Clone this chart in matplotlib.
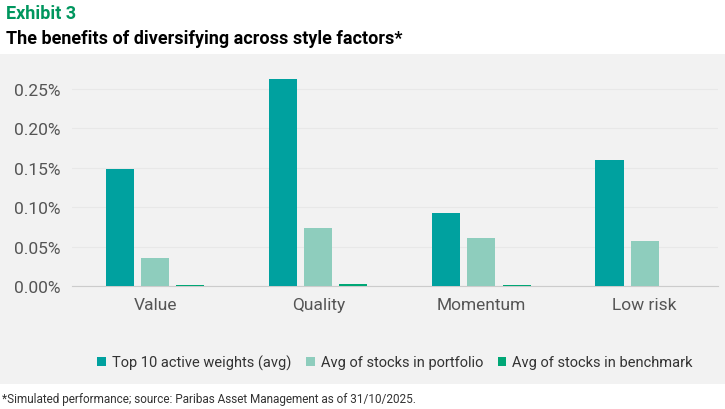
import matplotlib.pyplot as plt
import numpy as np

factors = ["Value", "Quality", "Momentum", "Low risk"]
top10 = [0.148, 0.263, 0.093, 0.160]
portfolio = [0.035, 0.073, 0.061, 0.057]
benchmark = [0.001, 0.002, 0.001, 0.0]
series = ["Top 10 active weights (avg)", "Avg of stocks in portfolio", "Avg of stocks in benchmark"]
colors = ["#00a19f", "#8ecdbd", "#00a776"]

plt.rcParams['font.family'] = ['Roboto', 'DejaVu Sans']
fig = plt.figure(figsize=(7.25, 4.1), dpi=100)

# grey panel behind the chart
bg = fig.add_axes([0, 25/410, 1, 330/410], zorder=-1)
bg.set_facecolor("#f2f2f2")
bg.set_xticks([])
bg.set_yticks([])
for s in bg.spines.values():
    s.set_visible(False)

fig.text(0.008, 0.965, "Exhibit 3", color="#00965e", fontsize=13, fontweight="bold", va="center")
fig.text(0.008, 0.905, "The benefits of diversifying across style factors*", color="black",
         fontsize=13, fontweight="bold", va="center")
fig.text(0.003, 0.025, "*Simulated performance; source: Paribas Asset Management as of 31/10/2025.",
         fontsize=8.5, color="#333333", va="center")

ax = fig.add_axes([72/725, 0.3, (718-72)/725, 213/410])
ax.set_facecolor("none")
x = np.arange(len(factors))
w = 0.172
off = 0.215
for i, vals in enumerate([top10, portfolio, benchmark]):
    ax.bar(x + (i - 1) * off, vals, w, color=colors[i], label=series[i], zorder=3)
ax.set_xlim(-0.51, 3.45)
ax.set_ylim(0, 0.27)
ax.set_yticks([0, 0.05, 0.10, 0.15, 0.20, 0.25])
ax.set_yticklabels(["0.00%", "0.05%", "0.10%", "0.15%", "0.20%", "0.25%"])
ax.yaxis.grid(True, color="#e8e8e8", lw=0.8, zorder=0)
ax.set_xticks(x)
ax.set_xticklabels(factors)
for s in ["top", "right", "left"]:
    ax.spines[s].set_visible(False)
ax.spines["bottom"].set_color("#cccccc")
ax.tick_params(axis="both", length=0, labelsize=12.5, colors="#555555")
ax.tick_params(axis="y", pad=8)
ax.tick_params(axis="x", pad=8)
ax.legend(loc="upper center", bbox_to_anchor=(0.5, -0.26), ncol=3, frameon=False,
          fontsize=10.5, handlelength=0.6, handleheight=0.6, columnspacing=1.0,
          handletextpad=0.4, labelcolor="#333333")
fig.savefig("out.png", dpi=100)
